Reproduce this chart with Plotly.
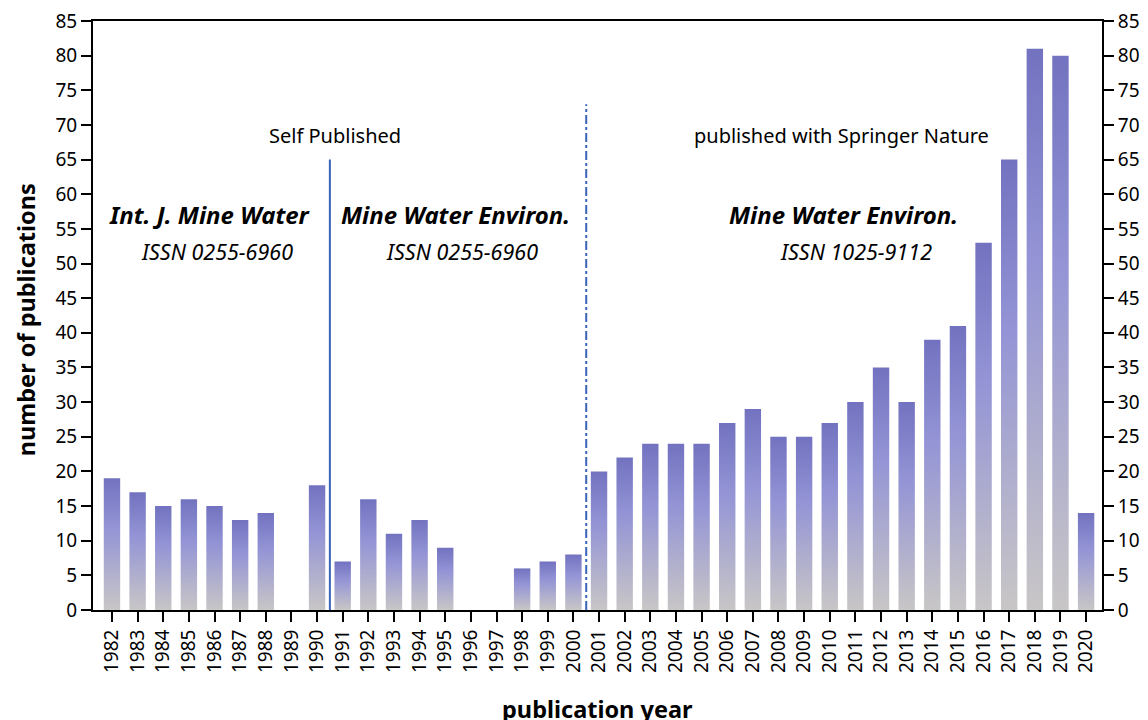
import plotly.graph_objects as go

years = list(range(1982, 2021))
counts = [19, 17, 15, 16, 15, 13, 14, 0, 18, 7, 16, 11, 13, 9, 0, 0, 6, 7, 8,
          20, 22, 24, 24, 24, 27, 29, 25, 25, 27, 30, 35, 30, 39, 41, 53, 65, 81, 80, 14]
year_labels = [str(y) for y in years]
y_ticks = list(range(0, 90, 5))

FONT = "Noto Sans"
BAR_HALF = 0.32
GRAD = [[0.0, "#c8c6c6"], [0.62, "#9494d6"], [1.0, "#7272c0"]]

fig = go.Figure()
for yr, c in zip(years, counts):
    if c <= 0:
        continue
    fig.add_trace(go.Scatter(
        x=[yr - BAR_HALF, yr + BAR_HALF, yr + BAR_HALF, yr - BAR_HALF, yr - BAR_HALF],
        y=[0, 0, c, c, 0],
        mode="lines", fill="toself", line=dict(width=0),
        fillgradient=dict(type="vertical", colorscale=GRAD),
        showlegend=False, hoverinfo="text", text=f"{yr}: {c}",
    ))
# invisible trace for right axis
fig.add_trace(go.Scatter(x=[years[0]], y=[0], yaxis="y2", mode="markers",
                         marker=dict(opacity=0), showlegend=False, hoverinfo="skip"))

line_col = "#3a64b8"
fig.add_shape(type="line", x0=1990.5, x1=1990.5, y0=0, y1=65, xref="x", yref="y",
              line=dict(color=line_col, width=2))
fig.add_shape(type="line", x0=2000.5, x1=2000.5, y0=0, y1=73, xref="x", yref="y",
              line=dict(color=line_col, width=2, dash="dashdot"))

annots = [
    ("Self Published", 1990.7, 68.5, 20),
    ("published with Springer Nature", 2010.44, 68.5, 20),
    ("<b><i>Int. J. Mine Water</i></b>", 1985.82, 57.1, 24),
    ("<i>ISSN 0255-6960</i>", 1986.1, 51.7, 21.5),
    ("<b><i>Mine Water Environ.</i></b>", 1995.42, 57.1, 24),
    ("<i>ISSN 0255-6960</i>", 1995.66, 51.7, 21.5),
    ("<b><i>Mine Water Environ.</i></b>", 2010.52, 57.1, 24),
    ("<i>ISSN 1025-9112</i>", 2011.03, 51.7, 21.5),
]
for t, x, y, s in annots:
    fig.add_annotation(text=t, x=x, y=y, xref="x", yref="y", showarrow=False,
                       font=dict(family=FONT, size=s, color="black"))

fig.add_annotation(text="<b>publication year</b>", x=0.5, y=-0.168, xref="paper", yref="paper",
                   showarrow=False, xanchor="center", yanchor="middle",
                   font=dict(family=FONT, size=23.5, color="black"))
fig.add_annotation(text="<b>number of publications</b>", x=-0.0664, y=0.492,
                   xref="paper", yref="paper", textangle=-90, showarrow=False,
                   xanchor="center", yanchor="middle",
                   font=dict(family=FONT, size=23.5, color="black"))

axis_common = dict(showline=True, linecolor="black", linewidth=2, ticks="outside",
                   ticklen=10, tickwidth=2, tickcolor="black", showgrid=False, zeroline=False,
                   automargin=False, ticklabeloverflow="allow",
                   tickfont=dict(family=FONT, size=19, color="black"))

# page body has an 8px default margin, so the figure is sized/offset to compensate
fig.update_layout(
    width=1140, height=712,
    margin=dict(l=85, r=46, t=13, b=110),
    plot_bgcolor="white", paper_bgcolor="white",
    font=dict(family=FONT, color="black"),
    xaxis=dict(**axis_common, range=[1981.26, 2020.62], tickmode="array",
               tickvals=years, ticktext=year_labels, tickangle=-90, mirror=True),
    yaxis=dict(**axis_common, range=[0, 85], tickmode="array", tickvals=y_ticks),
    yaxis2=dict(**axis_common, range=[0, 85], tickmode="array", tickvals=y_ticks,
                overlaying="y", side="right", matches="y"),
)

fig.write_html("out.html")
